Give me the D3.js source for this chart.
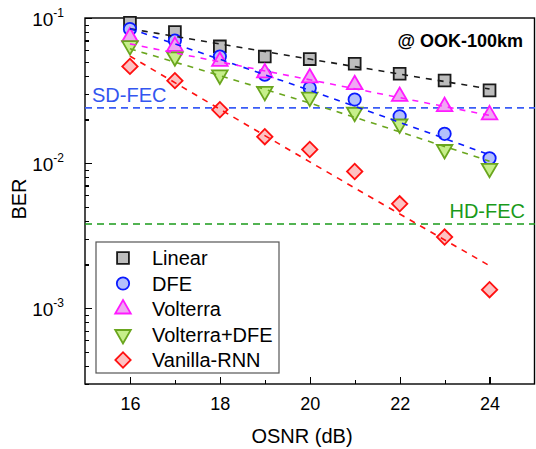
<!DOCTYPE html>
<head>
    <meta charset="utf-8" />
    <title>BER vs OSNR</title>
</head>
<style>
    body {
        margin: 0;
        background-color: #ffffff;
    }
    text {
        font-family: "Liberation Sans", Arial, sans-serif;
        fill: #000;
    }
    .axis path,
    .axis line {
        stroke: #000;
        stroke-width: 1.2px;
        shape-rendering: crispEdges;
    }
    .fit {
        fill: none;
        stroke-width: 1.6px;
        stroke-dasharray: 6, 6;
    }
</style>
<body>
    <svg id="chart" width="536" height="449"></svg>
    <script src="https://d3js.org/d3.v7.min.js"></script>
    <script>
        // measured points
        var osnr = [16, 17, 18, 19, 20, 21, 22, 23, 24];
        var linearBER = [0.0928, 0.080, 0.0637, 0.0543, 0.0521, 0.0484, 0.0413, 0.0371, 0.0317];
        var dfeBER = [0.084, 0.070, 0.0543, 0.0407, 0.0329, 0.0274, 0.0210, 0.0159, 0.0108];
        var volterraBER = [0.074, 0.0637, 0.0502, 0.0418, 0.0386, 0.0347, 0.0288, 0.0245, 0.0215];
        var volterraDfeBER = [0.0645, 0.054, 0.0405, 0.0312, 0.0285, 0.0224, 0.0186, 0.0124, 0.0092];
        var rnnBER = [0.0464, 0.037, 0.0233, 0.0152, 0.0124, 0.00875, 0.00524, 0.00309, 0.00134];

        // fitted (dashed) curves, read at 16, 20 and 24 dB
        var fitOsnr = [16, 20, 24];
        var linearFit = [0.0843, 0.0521, 0.0324];
        var dfeFit = [0.0844, 0.0317, 0.0114];
        var volterraFit = [0.0663, 0.0375, 0.0213];
        var volterraDfeFit = [0.0614, 0.0259, 0.0103];
        var rnnFit = [0.0546, 0.0102, 0.00196];

        // FEC thresholds
        var sdFec = 0.024;
        var hdFec = 0.0038;

        var xTicks = [16, 18, 20, 22, 24];
        var xMinorTicks = [17, 19, 21, 23];
        var yTicks = [1e-3, 1e-2, 1e-1];
        var yTickExp = ["-3", "-2", "-1"];

        var series = [
            { name: "Linear", values: linearBER, fit: linearFit, stroke: "#1a1a1a", fill: "#bdbdbd", shape: "square" },
            { name: "DFE", values: dfeBER, fit: dfeFit, stroke: "#0a1aff", fill: "#b4c0fb", shape: "circle" },
            { name: "Volterra", values: volterraBER, fit: volterraFit, stroke: "#ff1aff", fill: "#efa8f2", shape: "up" },
            { name: "Volterra+DFE", values: volterraDfeBER, fit: volterraDfeFit, stroke: "#6aa61e", fill: "#c6ef8a", shape: "down" },
            { name: "Vanilla-RNN", values: rnnBER, fit: rnnFit, stroke: "#ff1010", fill: "#fdc2c2", shape: "diamond" }
        ];

        var margin = { top: 18, right: 1, bottom: 65, left: 85 };
        var width = 536 - margin.left - margin.right,
            height = 449 - margin.top - margin.bottom;

        var svg = d3.select("#chart")
            .append("g")
            .attr("transform", "translate(" + margin.left + "," + margin.top + ")");

        var x = d3.scaleLinear().domain([15, 25]).range([0, width - 0.5]);
        var y = d3.scaleLog().domain([3e-4, 0.1]).range([height, 0]);

        function symbolPath(shape) {
            var sym = d3.symbol();
            if (shape === "square") return sym.type(d3.symbolSquare).size(140)();
            if (shape === "circle") return sym.type(d3.symbolCircle).size(120)();
            if (shape === "diamond") return sym.type(d3.symbolSquare).size(118)();
            return sym.type(d3.symbolTriangle).size(105)();
        }
        function symbolRotate(shape) {
            if (shape === "down") return 180;
            if (shape === "diamond") return 45;
            return 0;
        }

        // minor y ticks
        var yMinor = [];
        [1e-4, 1e-3, 1e-2].forEach(function(dec) {
            for (var k = 2; k <= 9; k++) {
                var v = dec * k;
                if (v > 3e-4 && v < 0.1) yMinor.push(v);
            }
        });

        svg.append("g")
            .attr("class", "axis")
            .attr("transform", "translate(0," + height + ")")
            .call(d3.axisBottom(x).tickValues(xMinorTicks).tickSize(-4).tickFormat(""))
            .select(".domain").remove();

        svg.append("g")
            .attr("class", "axis")
            .call(d3.axisLeft(y).tickValues(yMinor).tickSize(-4).tickFormat(""))
            .select(".domain").remove();

        var xAxis = svg.append("g")
            .attr("class", "axis")
            .attr("transform", "translate(0," + height + ")")
            .call(d3.axisBottom(x).tickValues(xTicks).tickSize(-7).tickPadding(13));
        xAxis.select(".domain").remove();
        xAxis.selectAll("text")
            .attr("font-size", "18px")
            .attr("font-family", "Liberation Sans, Arial, sans-serif")
            .attr("fill", "#000");

        var yAxis = svg.append("g")
            .attr("class", "axis")
            .call(d3.axisLeft(y).tickValues(yTicks).tickSize(-7).tickFormat(""));
        yAxis.select(".domain").remove();

        var yLab = svg.append("g").selectAll("text")
            .data(yTicks)
            .enter().append("text")
            .attr("x", -21)
            .attr("y", function(d) { return y(d) + 8; })
            .attr("text-anchor", "end")
            .attr("font-size", "19px");
        yLab.append("tspan").text("10");
        yLab.append("tspan")
            .attr("dy", -9)
            .attr("font-size", "12px")
            .text(function(d, i) { return yTickExp[i]; });

        // frame
        svg.append("rect")
            .attr("x", 0)
            .attr("y", 0)
            .attr("width", width - 0.5)
            .attr("height", height)
            .attr("fill", "none")
            .attr("stroke", "#000")
            .attr("stroke-width", 1.4);

        // FEC lines
        svg.append("line")
            .attr("x1", 0).attr("x2", width)
            .attr("y1", y(sdFec)).attr("y2", y(sdFec))
            .attr("stroke", "#3a5cf6")
            .attr("stroke-width", 1.6)
            .attr("stroke-dasharray", "7,5");
        svg.append("text")
            .attr("x", 7)
            .attr("y", y(sdFec) - 6)
            .attr("font-size", "20px")
            .style("fill", "#3356f0")
            .text("SD-FEC");

        svg.append("line")
            .attr("x1", 0).attr("x2", width)
            .attr("y1", y(hdFec)).attr("y2", y(hdFec))
            .attr("stroke", "#1a9a1a")
            .attr("stroke-width", 1.6)
            .attr("stroke-dasharray", "7,5");
        svg.append("text")
            .attr("x", width - 10)
            .attr("y", y(hdFec) - 6)
            .attr("text-anchor", "end")
            .attr("font-size", "20px")
            .style("fill", "#1a9a1a")
            .text("HD-FEC");

        // markers
        series.forEach(function(s) {
            svg.append("g").selectAll("path")
                .data(s.values)
                .enter().append("path")
                .attr("d", symbolPath(s.shape))
                .attr("transform", function(d, i) {
                    return "translate(" + x(osnr[i]) + "," + y(d) + ") rotate(" + symbolRotate(s.shape) + ")";
                })
                .attr("fill", s.fill)
                .attr("stroke", s.stroke)
                .attr("stroke-width", 1.8);
        });

        // fitted dashed curves on top
        var fitLine = d3.line()
            .x(function(d, i) { return x(fitOsnr[i]); })
            .y(function(d) { return y(d); })
            .curve(d3.curveNatural);

        series.forEach(function(s) {
            svg.append("path")
                .datum(s.fit)
                .attr("class", "fit")
                .attr("stroke", s.stroke)
                .attr("d", fitLine);
        });

        // title
        svg.append("text")
            .attr("x", width - 12)
            .attr("y", 29)
            .attr("text-anchor", "end")
            .attr("font-size", "18px")
            .attr("font-weight", "bold")
            .text("@ OOK-100km");

        // legend
        var legend = svg.append("g").attr("transform", "translate(11,224)");
        legend.append("rect")
            .attr("width", 183)
            .attr("height", 131)
            .attr("fill", "#fff")
            .attr("stroke", "#555")
            .attr("stroke-width", 1.2);

        series.forEach(function(s, i) {
            var row = legend.append("g")
                .attr("transform", "translate(0," + (16 + i * 25.5) + ")");
            row.append("path")
                .attr("d", symbolPath(s.shape))
                .attr("transform", "translate(27,0) rotate(" + symbolRotate(s.shape) + ")")
                .attr("fill", s.fill)
                .attr("stroke", s.stroke)
                .attr("stroke-width", 1.8);
            row.append("text")
                .attr("x", 56)
                .attr("y", 7)
                .attr("font-size", "20px")
                .text(s.name);
        });

        // axis titles
        svg.append("text")
            .attr("x", 217)
            .attr("y", height + 59)
            .attr("text-anchor", "middle")
            .attr("font-size", "20px")
            .text("OSNR (dB)");

        svg.append("text")
            .attr("transform", "translate(-59," + (height / 2 - 2) + ") rotate(-90)")
            .attr("text-anchor", "middle")
            .attr("font-size", "20px")
            .text("BER");
    </script>
</body>
